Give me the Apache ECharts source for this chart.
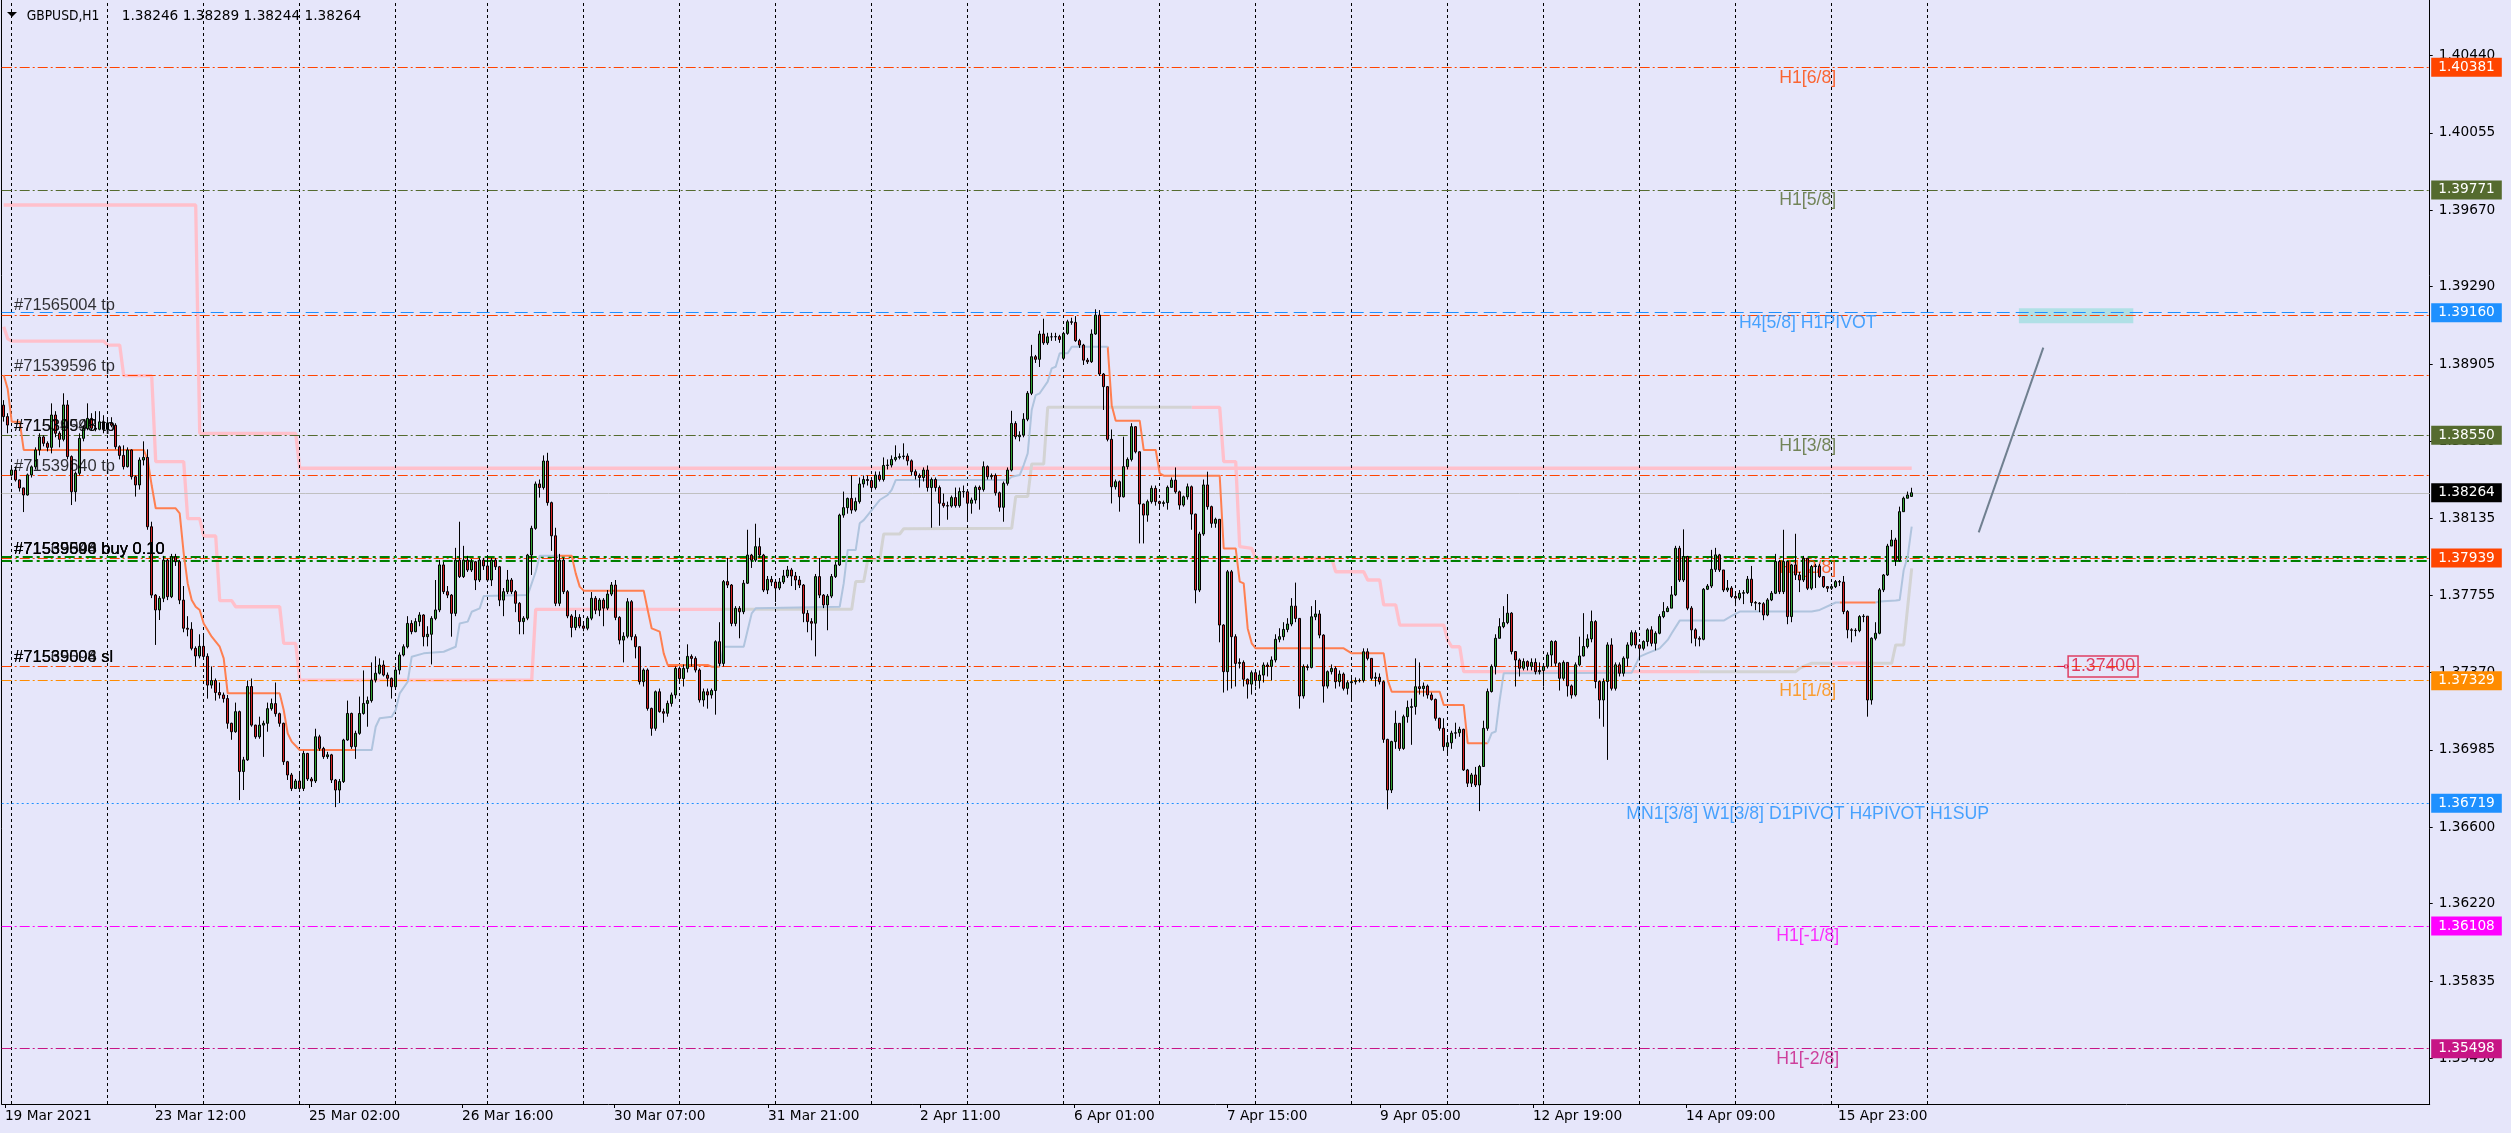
<!DOCTYPE html>
<html><head><meta charset="utf-8">
<style>html,body{margin:0;padding:0;background:#E6E6FA;}#c{width:2511px;height:1133px;}</style>
<script src="https://cdn.jsdelivr.net/npm/echarts@6/dist/echarts.min.js"></script>
</head><body><div id="c"></div>
<script>
// ================= DATA (prices in points: 1.3 + v/100000) =================
const closes = [
8643,8601,8377,8328,8288,8253,8353,8393,8477,8542,
8510,8490,8651,8560,8530,8701,8444,8269,8361,8535,
8584,8634,8585,8580,8617,8580,8610,8600,8493,8450,
8394,8477,8344,8303,8427,8440,8095,7755,7681,7739,
7929,7747,7946,7921,7730,7590,7585,7490,7452,7500,
7450,7307,7330,7270,7258,7240,7117,7075,7175,6877,
6935,7300,7108,7050,7108,7117,7190,7215,7165,7117,
6926,6860,6793,6830,6793,6967,6840,6830,7050,6992,
6951,6960,6835,6785,6827,7034,7166,7001,7067,7166,
7216,7230,7332,7366,7407,7357,7341,7299,7382,7457,
7498,7614,7573,7623,7656,7548,7560,7639,7681,7905,
7772,7755,7664,7929,7847,7929,7880,7921,7830,7929,
7900,7830,7929,7896,7730,7772,7830,7772,7714,7623,
7640,7954,8087,8308,8290,8422,8215,8050,7714,7929,
7772,7651,7594,7644,7601,7590,7640,7739,7680,7730,
7690,7760,7805,7644,7531,7550,7722,7548,7498,7324,
7382,7191,7092,7274,7175,7167,7216,7258,7390,7340,
7390,7450,7440,7382,7233,7274,7258,7280,7523,7415,
7822,7805,7614,7689,7672,7814,7954,7929,7996,7954,
7780,7833,7820,7790,7820,7850,7880,7850,7830,7805,
7664,7623,7615,7847,7755,7706,7750,7847,7905,8153,
8190,8236,8178,8220,8308,8330,8325,8290,8352,8330,
8400,8402,8430,8440,8444,8447,8423,8369,8350,8340,
8377,8290,8330,8290,8212,8200,8198,8240,8200,8270,
8269,8212,8228,8291,8280,8394,8344,8350,8264,8192,
8311,8377,8609,8543,8551,8630,8759,8941,8928,9054,
9010,9040,9040,9041,9027,9057,9115,9112,9021,8999,
8924,8916,9054,9148,8855,8792,8530,8294,8319,8244,
8394,8430,8593,8468,8208,8153,8220,8286,8220,8211,
8215,8291,8327,8269,8203,8244,8294,8158,7780,8059,
8303,8195,8112,8132,7606,7374,7871,7548,7415,7420,
7336,7312,7369,7330,7357,7407,7400,7432,7535,7548,
7584,7611,7700,7639,7253,7399,7395,7647,7661,7556,
7302,7374,7390,7324,7362,7291,7319,7324,7329,7330,
7473,7440,7341,7346,7324,7037,6785,7026,7117,6992,
7150,7196,7200,7299,7290,7302,7258,7236,7142,7092,
7001,7020,7068,7070,7087,6885,6819,6860,6810,6902,
7092,7275,7400,7540,7598,7618,7665,7474,7432,7391,
7424,7400,7420,7374,7380,7400,7457,7524,7416,7341,
7420,7303,7258,7408,7452,7499,7537,7623,7325,7233,
7325,7507,7291,7408,7366,7441,7507,7568,7507,7490,
7524,7582,7515,7565,7648,7673,7690,7756,7988,7830,
7947,7690,7582,7540,7535,7784,7800,7883,7955,7880,
7780,7790,7748,7740,7764,7767,7834,7718,7715,7712,
7656,7731,7764,7922,7772,7922,7648,7905,7855,7830,
7938,7789,7897,7900,7847,7797,7789,7797,7822,7820,
7673,7582,7580,7578,7648,7650,7233,7540,7565,7781,
7855,7999,8029,7927,8170,8237,8253,8264];
const highs = [
8725,8660,8390,8395,8330,8290,8360,8400,8490,8560,
8550,8520,8709,8670,8570,8759,8725,8450,8370,8560,
8600,8709,8660,8670,8670,8650,8630,8640,8610,8500,
8500,8490,8480,8350,8440,8520,8480,8120,7760,7750,
7950,7935,7960,7960,7930,7800,7650,7620,7500,7560,
7560,7465,7400,7340,7320,7270,7258,7120,7220,7180,
6950,7330,7340,7110,7150,7130,7220,7240,7320,7170,
7120,6930,6870,6840,6880,6980,6970,6850,7090,7060,
7000,6975,6965,6840,6840,7040,7230,7170,7080,7250,
7380,7250,7420,7450,7440,7430,7370,7345,7400,7470,
7510,7650,7630,7640,7670,7660,7600,7650,7830,7930,
7920,7800,7760,7990,8120,8000,7950,7935,7925,7940,
7940,7950,7940,7940,7900,7790,7880,7840,7780,7720,
7650,7960,8100,8320,8330,8450,8463,8220,8090,7960,
7940,7780,7660,7680,7660,7620,7650,7770,7750,7740,
7740,7780,7820,7830,7650,7570,7740,7730,7560,7500,
7390,7390,7195,7280,7290,7190,7230,7270,7400,7400,
7410,7510,7460,7450,7390,7290,7290,7290,7530,7620,
7830,7940,7810,7700,7700,7830,8080,7960,8110,8040,
7960,7850,7850,7830,7840,7880,7900,7890,7870,7850,
7810,7680,7640,7860,7940,7760,7760,7860,7920,8160,
8270,8240,8350,8240,8340,8350,8350,8330,8370,8370,
8440,8430,8450,8500,8460,8510,8460,8430,8380,8360,
8390,8400,8340,8340,8300,8260,8220,8250,8290,8290,
8300,8270,8240,8300,8300,8420,8400,8360,8360,8270,
8320,8390,8672,8620,8570,8660,8770,9000,8950,9070,
9130,9060,9060,9060,9050,9065,9125,9135,9143,9030,
9005,8935,9077,9177,9173,8860,8795,8579,8330,8325,
8543,8440,8610,8595,8470,8210,8230,8300,8300,8225,
8225,8300,8340,8390,8275,8250,8310,8300,8160,8070,
8330,8369,8200,8140,8130,7610,7880,7880,7560,7440,
7430,7340,7380,7370,7380,7420,7420,7450,7560,7590,
7620,7640,7740,7817,7640,7410,7410,7700,7730,7680,
7560,7380,7410,7400,7380,7370,7330,7350,7345,7340,
7490,7490,7440,7370,7365,7330,7040,7030,7180,7110,
7160,7230,7240,7440,7420,7320,7310,7270,7240,7145,
7142,7050,7080,7120,7100,7090,6890,6870,6900,6910,
7130,7290,7410,7560,7640,7700,7760,7670,7440,7440,
7440,7430,7440,7440,7420,7410,7470,7530,7530,7420,
7430,7420,7310,7420,7548,7665,7560,7678,7630,7330,
7340,7520,7540,7420,7420,7450,7520,7580,7580,7510,
7530,7590,7600,7575,7660,7720,7700,7800,8000,8000,
8082,7950,7700,7590,7550,7790,7810,7980,7990,7960,
7850,7830,7800,7760,7780,7780,7850,7900,7725,7720,
7720,7740,7775,7960,7930,8080,7925,7910,8060,7870,
7950,7940,7905,7910,7910,7850,7800,7810,7830,7830,
7850,7680,7590,7590,7655,7660,7650,7545,7620,7790,
7860,8010,8079,8040,8195,8245,8270,8289];
const lows = [
8618,8560,8345,8320,8270,8168,8250,8340,8380,8450,
8495,8470,8460,8540,8490,8520,8430,8203,8220,8350,
8520,8575,8575,8570,8575,8560,8570,8590,8480,8430,
8380,8390,8330,8245,8280,8400,8080,7740,7507,7631,
7720,7730,7740,7900,7710,7570,7550,7480,7400,7440,
7440,7240,7290,7230,7240,7220,7090,7035,7070,6735,
6785,6930,7100,7040,7040,6950,7075,7180,7150,7100,
6910,6835,6780,6790,6780,6780,6830,6800,6820,6980,
6940,6940,6820,6700,6720,6820,7030,6990,6940,7060,
7160,7100,7220,7320,7360,7350,7300,7240,7290,7360,
7450,7490,7560,7570,7600,7500,7500,7410,7630,7670,
7760,7740,7548,7650,7840,7840,7870,7870,7780,7820,
7880,7820,7800,7880,7700,7650,7760,7760,7670,7560,
7560,7630,7855,8080,8240,8280,8200,7975,7700,7700,
7760,7640,7545,7580,7590,7575,7580,7630,7660,7650,
7600,7680,7750,7630,7510,7420,7540,7530,7440,7310,
7300,7180,7055,7080,7170,7120,7150,7200,7240,7320,
7300,7370,7400,7370,7220,7200,7190,7240,7160,7400,
7400,7790,7600,7600,7540,7660,7810,7890,7920,7940,
7770,7760,7800,7720,7780,7810,7840,7800,7780,7790,
7620,7570,7530,7450,7740,7690,7580,7740,7840,7900,
8140,8160,8160,8170,8210,8290,8300,8270,8280,8320,
8320,8380,8390,8420,8430,8430,8400,8350,8330,8290,
8320,8270,8090,8270,8100,8190,8130,8190,8190,8190,
8240,8130,8160,8210,8180,8270,8330,8330,8250,8170,
8120,8300,8370,8530,8520,8540,8620,8750,8910,8890,
9000,9000,9020,9020,9010,8924,9050,9100,9015,8985,
8900,8905,8910,9050,8845,8676,8520,8211,8280,8170,
8240,8380,8420,8460,8012,8012,8120,8210,8200,8190,
8195,8180,8290,8260,8180,8195,8230,8080,7714,7770,
8050,8180,8090,8090,7520,7270,7280,7290,7300,7390,
7300,7240,7260,7300,7290,7320,7350,7330,7420,7520,
7530,7570,7600,7620,7190,7240,7380,7390,7630,7540,
7220,7290,7360,7290,7300,7280,7260,7230,7310,7320,
7320,7430,7330,7300,7310,7020,6689,6770,6990,6980,
6985,7120,7010,7160,7260,7250,7240,7230,7130,7080,
6980,6960,6990,7040,7050,6880,6800,6800,6800,6680,
6900,7080,7270,7360,7540,7590,7610,7460,7300,7350,
7380,7380,7380,7360,7360,7300,7390,7400,7400,7280,
7330,7250,7240,7250,7400,7450,7490,7520,7291,7140,
7100,6935,7280,7280,7350,7350,7400,7500,7490,7430,
7480,7500,7500,7480,7560,7640,7670,7690,7750,7820,
7820,7680,7515,7500,7500,7530,7780,7790,7870,7870,
7770,7770,7740,7700,7730,7710,7760,7700,7680,7670,
7630,7650,7725,7760,7760,7760,7610,7620,7830,7770,
7820,7780,7780,7790,7840,7790,7770,7780,7790,7800,
7660,7540,7520,7550,7570,7620,7150,7210,7530,7560,
7770,7850,8020,7900,7920,8170,8240,8244];
const firstOpen = 8700;
const openGaps = {2: 8352, 265: 8933, 477: 8246};

// time axis
const xLabels = ['19 Mar 2021','23 Mar 12:00','25 Mar 02:00','26 Mar 16:00','30 Mar 07:00','31 Mar 21:00','2 Apr 11:00','6 Apr 01:00','7 Apr 15:00','9 Apr 05:00','12 Apr 19:00','14 Apr 09:00','15 Apr 23:00'];
// where the terminal prints each time label, in bar units
const xLabelAt = [0.3,37.8,76.3,114.6,152.6,191.1,229.1,267.6,305.8,344.1,382.3,420.6,458.6];
const dayStarts = [2,26,50,74,98,121,145,169,193,217,241,265,289,313,337,361,385,409,433,457,481];
const yTicks = [1.40440,1.40055,1.39670,1.39290,1.38905,1.38520,1.38135,1.37755,1.37370,1.36985,1.36600,1.36220,1.35835,1.35450];

// levels
const levelPrices = [1.40381,1.39771,1.39160,1.38550,1.37939,1.37329,1.36719,1.36108,1.35498];
const levelNames = ['H1[6/8]','H1[5/8]','H4[5/8] H1PIVOT','H1[3/8]','H1[2/8]','H1[1/8]','MN1[3/8] W1[3/8] D1PIVOT H4PIVOT H1SUP','H1[-1/8]','H1[-2/8]'];
const bidPrice = 1.38264;
const tpPrices = [1.39149,1.38849,1.38349];
const entryPrices = [1.37948,1.37928];
const slPrices = [1.37400];
const orderTexts = ['#71565004 tp','#71539596 tp','#71539598 tp','#71534945 tp','#71539640 tp',
  '#71565004 buy 0.10','#71539596 buy 0.10','#71539640 buy 0.10','#71539598 buy 0.10',
  '#71539008 sl','#71565004 sl','#71539596 sl'];
const orderTextPrices = [1.39149,1.38849,1.38550,1.38550,1.38349,1.37939,1.37939,1.37939,1.37939,1.37400,1.37400,1.37400];
const priceTagValue = 1.37400;
const priceTagBar = 515.6;

// indicator step lines: [bar, points]
const coralSegs = [
 [[0,8850],[1,8780],[2,8618],[4,8618],[5,8477],[35,8477],[36,8427],[37,8300],[38,8187],[43,8187],[44,8162],[45,7963],[46,7813],[47,7730],[48,7697],[49,7681],[50,7614],[52,7548],[54,7498],[55,7440],[56,7266],[69,7266],[70,7183],[71,7067],[72,7026],[74,6984],[88,6984]],
 [[139,7951],[142,7951],[143,7863],[144,7797],[145,7777],[160,7777],[161,7681],[162,7589],[164,7573],[165,7465],[166,7407],[176,7407],[177,7399],[179,7399]],
 [[276,8991],[277,8700],[278,8623],[284,8623],[285,8477],[288,8477],[289,8361],[290,8349],[304,8349],[305,7987],[308,7987],[309,7822],[310,7813],[311,7589],[312,7515],[313,7490],[335,7490],[337,7465],[345,7465],[346,7332],[347,7274],[359,7274],[360,7208],[365,7208],[366,7018],[371,7018]],
 [[459,7718],[468,7718]]
];
const steelSegs = [
 [[88,6984],[92,6984],[93,7100],[94,7142],[97,7150],[98,7183],[99,7266],[101,7324],[102,7448],[105,7465],[110,7473],[113,7498],[114,7614],[116,7623],[117,7672],[119,7689],[120,7750],[131,7755],[133,7871],[134,7951],[139,7951]],
 [[179,7399],[180,7498],[185,7498],[186,7581],[187,7664],[188,7689],[209,7697],[210,7813],[211,7979],[213,7979],[214,8112],[215,8128],[217,8178],[219,8228],[221,8253],[222,8278],[223,8327],[251,8327],[252,8344],[254,8352],[255,8402],[256,8460],[257,8676],[258,8750],[259,8759],[261,8817],[262,8883],[263,8891],[264,8958],[266,8958],[267,8991],[276,8991]],
 [[371,7018],[372,7068],[373,7076],[374,7233],[375,7366],[407,7369],[409,7449],[411,7466],[414,7490],[416,7532],[417,7565],[419,7628],[430,7628],[432,7651],[434,7673],[452,7673],[454,7681],[458,7718],[459,7718]],
 [[468,7718],[469,7723],[473,7728],[474,7731],[475,7880],[476,7947],[477,8096]]
];
const pinkSegs = [
 [[0,9090],[1,9030],[2,9019],[25,9019],[26,8999],[29,8999],[30,8847],[37,8847],[38,8419],[45,8419],[46,8135],[49,8135],[50,8049],[53,8049],[54,7727],[57,7727],[58,7697],[69,7697],[70,7515],[73,7515],[74,7332],[132,7332],[133,7684],[180,7684]],
 [[297,8689],[304,8689],[305,8419],[308,8419],[309,7996],[312,7987],[313,7938],[332,7938],[333,7871],[340,7871],[341,7830],[344,7830],[345,7706],[348,7706],[349,7606],[360,7606],[361,7531],[362,7498],[364,7498],[365,7374],[424,7374]],
 [[457,7416],[466,7416]]
];
const graySegs = [
 [[180,7684],[212,7684],[213,7822],[215,7822],[216,7930],[219,7930],[220,8059],[224,8059],[225,8085],[252,8087],[253,8245],[256,8245],[257,8407],[260,8407],[261,8689],[297,8689]],
 [[424,7374],[448,7374],[449,7391],[452,7416],[457,7416]],
 [[466,7416],[472,7416],[473,7507],[475,7507],[476,7697],[477,7888]]
];
const pinkTop = [[0,9696],[48,9696],[49,8560],[73,8560],[74,8386],[477,8386]];
const arrowLine = [[493.75,8067],[509.9,8986]];
const boxArea = [[503.8,9182],[532.4,9107]];

// ================= BUILD =================
const P = v => (130000 + v) / 100000;
const N_SLOTS = 607;
const Y_MIN = 1.352228, Y_MAX = 1.407159;
const cats = Array.from({length: N_SLOTS}, (_, i) => String(i));
const ohlc = closes.map((c, i) => {
  const o = (openGaps[i] !== undefined) ? openGaps[i] : (i === 0 ? firstOpen : closes[i - 1]);
  const h = Math.max(highs[i], o, c), l = Math.min(lows[i], o, c);
  return [P(o), P(c), P(l), P(h)];
});
const toXY = seg => seg.map(p => [p[0], P(p[1])]);
const HOST = [[-100, 1.38]];

const AX_FONT = 'DejaVu Sans';
const TXT_FONT = 'Liberation Sans';
const C = {orangered:'#FF4500', olive:'#556B2F', blue:'#1E90FF', orange:'#FF8C00', magenta:'#FF00FF', mvr:'#C71585', green:'#008000'};
const levelColors = [C.orangered, C.olive, C.blue, C.olive, C.orangered, C.orange, C.blue, C.magenta, C.mvr];
const levelDash = ['dd','dd','dash','dd','dd','dd','dot','dd','dd'];
const dashOf = k => k === 'dd' ? [10,3,2,3] : (k === 'dash' ? [13,6] : [2,3]);
const boxLabel = (txt, bg) => ({show:true, position:'end', distance:1.5, formatter: txt, backgroundColor: bg, color:'#FFFFFF',
  padding:[3,7,2,7], fontFamily: AX_FONT, fontSize: 13.7});
const hostSeries = (z, extra) => Object.assign({type:'line', xAxisIndex:1, yAxisIndex:0, data: HOST, symbol:'none', showSymbol:false,
  silent:true, z: z, lineStyle:{opacity:0}}, extra);

const series = [];
series.push(hostSeries(1, {markLine:{silent:true, precision:6, symbol:['none','none'], animation:false, label:{show:false},
    lineStyle:{color:'#000000', type:[3,3], width:1},
    data: dayStarts.map(d => ({xAxis: d}))}}));
series.push(hostSeries(1, {markArea:{silent:true, itemStyle:{color:'#B0E0E6'},
    data:[[{xAxis: boxArea[0][0], yAxis: P(boxArea[0][1])},{xAxis: boxArea[1][0], yAxis: P(boxArea[1][1])}]]}}));
const orderLineData = [];
tpPrices.forEach(p => orderLineData.push({yAxis:p, lineStyle:{color:C.orangered, type:[10,3,2,3], width:1}}));
slPrices.forEach(p => orderLineData.push({yAxis:p, lineStyle:{color:C.orangered, type:[10,3,2,3], width:1}}));
entryPrices.forEach(p => orderLineData.push({yAxis:p, lineStyle:{color:C.green, type:[10,4,3,4], width:2}}));
series.push(hostSeries(2, {markLine:{silent:true, precision:6, symbol:['none','none'], animation:false, label:{show:false}, data: orderLineData}}));
const levelLineData = levelPrices.map((p, i) => ({yAxis:p,
  lineStyle:{color: levelColors[i], type: dashOf(levelDash[i]), width:1},
  label: boxLabel(p.toFixed(5), levelColors[i])}));
levelLineData.push({yAxis: bidPrice, lineStyle:{color:'#C0C0C0', type:'solid', width:1}, label: boxLabel(bidPrice.toFixed(5), '#000000')});
series.push(hostSeries(3, {markLine:{silent:true, precision:6, symbol:['none','none'], animation:false, data: levelLineData}}));
const addSegs = (segs, color, width, z) => segs.forEach(s => series.push({type:'line', xAxisIndex:1, yAxisIndex:0,
  data: toXY(s), symbol:'none', showSymbol:false, silent:true, z: z, lineStyle:{color: color, width: width}}));
addSegs([pinkTop], '#FFC0CB', 3.3, 4);
addSegs(pinkSegs, '#FFC0CB', 3.3, 4);
addSegs(graySegs, '#D3D3D3', 3, 4);
addSegs(coralSegs, '#FF7F50', 2, 5);
addSegs(steelSegs, '#B0C4DE', 2, 5);
series.push({type:'line', xAxisIndex:1, yAxisIndex:0, data: toXY(arrowLine), symbol:'none', silent:true, z:5,
  lineStyle:{color:'#708090', width:2}});
series.push({type:'scatter', xAxisIndex:1, yAxisIndex:0, symbolSize:0, silent:true, z:6,
  data: levelPrices.map((p, i) => ({name: levelNames[i], value:[451, p], label:{color: levelColors[i]}})),
  label:{show:true, position:[0,0], align:'center', verticalAlign:'middle', offset:[0,10.5], formatter:'{b}',
    fontFamily: TXT_FONT, fontSize: 17.7}});
series.push({type:'candlestick', xAxisIndex:0, yAxisIndex:0, data: ohlc, z:10, silent:true, barWidth:2,
  itemStyle:{color:'#32A032', color0:'#D42020', borderColor:'#000000', borderColor0:'#000000', borderWidth:1}});
series.push({type:'scatter', xAxisIndex:1, yAxisIndex:0, symbolSize:0, silent:true, z:12,
  data: orderTexts.map((t, i) => ({name: t, value:[2.6, orderTextPrices[i]]})),
  label:{show:true, position:[0,0], align:'left', verticalAlign:'middle', offset:[0,-9], formatter:'{b}',
    color:'#000000', fontFamily: TXT_FONT, fontSize: 16.5}});
series.push({type:'line', xAxisIndex:1, yAxisIndex:0, data:[[priceTagBar-2.2, priceTagValue],[priceTagBar, priceTagValue]],
  symbol:'none', silent:true, z:12, lineStyle:{color:'#DC143C', width:1}});
series.push({type:'scatter', xAxisIndex:1, yAxisIndex:0, symbol:'rect', symbolSize:3, silent:true, z:12,
  itemStyle:{color:'#E6E6FA', borderColor:'#DC143C', borderWidth:1},
  data:[{name: priceTagValue.toFixed(5), value:[priceTagBar, priceTagValue]}],
  label:{show:true, position:'right', distance:0, formatter:'{b}', color:'#DC143C', borderColor:'#DC143C', borderWidth:1.5,
    padding:[2,3,1,3], fontFamily: TXT_FONT, fontSize:17.7}});

const labelFor = v => { const k = xLabelAt.findIndex(p => Math.abs(p - v) < 1e-6); return k >= 0 ? xLabels[k] : ''; };
const option = {
  animation:false,
  backgroundColor:'#E6E6FA',
  grid:{left:1.7, top:0, width:2428, height:1104, containLabel:false},
  xAxis:[
    {type:'category', data: cats, boundaryGap:true,
     axisLine:{show:true, onZero:false, lineStyle:{color:'#000000', width:1}},
     axisTick:{show:false}, axisLabel:{show:false}, splitLine:{show:false}},
    {type:'value', min:-0.5, max: N_SLOTS - 0.5, position:'bottom', show:true,
     axisLine:{show:false, onZero:false},
     axisTick:{show:true, customValues: xLabelAt, length:4, lineStyle:{color:'#000000'}},
     axisLabel:{show:true, customValues: xLabelAt, formatter: labelFor, align:'left', margin:5,
       color:'#000000', fontFamily: AX_FONT, fontSize:13.7},
     splitLine:{show:false}}
  ],
  yAxis:[
    {type:'value', position:'right', min:Y_MIN, max:Y_MAX,
     axisLine:{show:true, onZero:false, lineStyle:{color:'#000000'}},
     axisTick:{show:true, customValues: yTicks, length:3, lineStyle:{color:'#000000'}},
     axisLabel:{show:true, customValues: yTicks, formatter: v => v.toFixed(5), margin:9, color:'#000000',
       fontFamily: AX_FONT, fontSize:13.7},
     splitLine:{show:false}},
    {type:'value', position:'left', min:Y_MIN, max:Y_MAX,
     axisLine:{show:true, onZero:false, lineStyle:{color:'#000000'}}, axisTick:{show:false}, axisLabel:{show:false}, splitLine:{show:false}}
  ],
  graphic:[
    {type:'polygon', shape:{points:[[7,12],[17,12],[12,17]]}, style:{fill:'#000000'}},
    {type:'text', x:26.7, y:16, style:{text:'GBPUSD,H1', fill:'#000000', font:'13.7px "DejaVu Sans Condensed"', verticalAlign:'middle'}},
    {type:'text', x:121.7, y:16, style:{text:'1.38246 1.38289 1.38244 1.38264', fill:'#000000', font:'13.7px "DejaVu Sans"', verticalAlign:'middle'}}
  ],
  series: series
};
const chart = echarts.init(document.getElementById('c'), null, {renderer:'canvas', width:2511, height:1133});
chart.setOption(option);
</script>
</body></html>
